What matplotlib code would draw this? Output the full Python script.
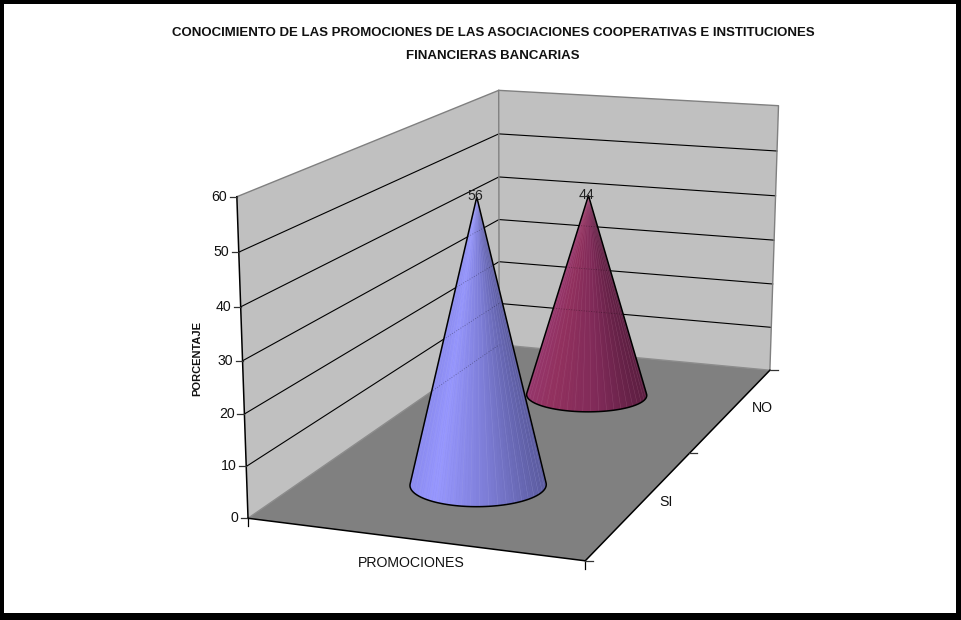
import numpy as np
import matplotlib
matplotlib.use("Agg")
import matplotlib.pyplot as plt
from matplotlib.patches import Polygon, Rectangle
from matplotlib.colors import to_rgb

plt.rcParams['font.family'] = ['Liberation Sans', 'DejaVu Sans']

# Chart content
title_lines = ["CONOCIMIENTO DE LAS PROMOCIONES DE LAS ASOCIACIONES COOPERATIVAS E INSTITUCIONES",
               "FINANCIERAS BANCARIAS"]
categories = ["SI", "NO"]
values = [56, 44]
value_ticks = [0, 10, 20, 30, 40, 50, 60]
x_title = "PROMOCIONES"
y_title = "PORCENTAJE"

VMAX = 60.0
CONE_RU, CONE_RV = 0.2, 0.10

# Camera calibration: box corners (u, v, w) and where they fall on the canvas
left_front = [(248.3, 518.3), (246.7, 466.7), (244.3, 413.7), (242.7, 361), (241, 306.7), (239, 252), (235.7, 196.7)]
left_back = [(498.5, 345), (498.6, 303), (498.8, 261.7), (499, 220), (499.1, 177), (499.2, 134), (499.3, 90)]
right_back = [(770, 370), (771.5, 327), (773, 283.7), (774.5, 240.7), (775.8, 196), (776.8, 151), (777.7, 105.7)]
front_right = (585, 561)


def fit_camera():
    world, screen = [], []
    for k in range(7):
        w = k / 6
        world += [(0, 0, w), (0, 1, w), (1, 1, w)]
        screen += [left_front[k], left_back[k], right_back[k]]
    world.append((1, 0, 0))
    screen.append(front_right)
    rows, rhs = [], []
    for (u, v, w), (x, y) in zip(world, screen):
        rows.append([u, v, w, 1, 0, 0, 0, 0, -x * u, -x * v, -x * w])
        rows.append([0, 0, 0, 0, u, v, w, 1, -y * u, -y * v, -y * w])
        rhs += [x, y]
    p = np.linalg.lstsq(np.array(rows, float), np.array(rhs, float), rcond=None)[0]
    return np.append(p, 1.0).reshape(3, 4)


CAM = fit_camera()


def proj(u, v, value):
    """Project a point of the plot box (value in chart units) to the canvas."""
    u, v, value = np.broadcast_arrays(u, v, np.asarray(value, float))
    h = CAM @ np.vstack([u.ravel(), v.ravel(), value.ravel() / VMAX, np.ones(u.size)])
    return np.column_stack([h[0] / h[2], h[1] / h[2]])


def hull(points):
    pts = sorted(map(tuple, points))

    def half(seq):
        out = []
        for p in seq:
            while len(out) > 1:
                a, b = np.subtract(out[-1], out[-2]), np.subtract(p, out[-1])
                if a[0] * b[1] - a[1] * b[0] > 0:
                    break
                out.pop()
            out.append(p)
        return out[:-1]
    return np.array(half(pts) + half(pts[::-1]))


fig = plt.figure(figsize=(9.62, 6.2), dpi=100, facecolor="black")
ax = fig.add_axes([0, 0, 1, 1])
ax.set_xlim(0, 962)
ax.set_ylim(620, 0)
ax.axis("off")
ax.add_patch(Rectangle((4, 4), 952, 609, fc="white", ec="none", zorder=0))

WALL, FLOOR, EDGE = "#C0C0C0", "#808080", "#808080"
TEXT = "#111111"

# Walls and floor
ax.add_patch(Polygon(proj([0, 0, 0, 0], [0, 1, 1, 0], [0, 0, VMAX, VMAX]), fc=WALL, ec="none", zorder=1))
ax.add_patch(Polygon(proj([0, 1, 1, 0], [1, 1, 1, 1], [0, 0, VMAX, VMAX]), fc=WALL, ec="none", zorder=1))
ax.add_patch(Polygon(proj([0, 1, 1, 0], [0, 0, 1, 1], [0, 0, 0, 0]), fc=FLOOR, ec="none", zorder=1))

# Gridlines across both walls
for t in value_ticks[1:-1]:
    ax.plot(*proj([0, 0, 1], [0, 1, 1], [t, t, t]).T, color="black", lw=0.8, zorder=2)

# Wall outlines
ax.plot(*proj([0, 0, 1, 1], [0, 1, 1, 1], [VMAX, VMAX, VMAX, 0]).T, color=EDGE, lw=1.0, zorder=2)
ax.plot(*proj([0, 0], [1, 1], [0, VMAX]).T, color=EDGE, lw=1.0, zorder=2)
ax.plot(*proj([0, 0, 1], [0, 1, 1], [0, 0, 0]).T, color="#8c8c8c", lw=1.0, zorder=2)

# Axis lines
ax.plot(*proj([0, 0], [0, 0], [0, VMAX]).T, color="black", lw=1.1, zorder=3)
ax.plot(*proj([0, 1, 1], [0, 0, 1], [0, 0, 0]).T, color="black", lw=1.1, zorder=3)

# Value axis ticks and labels
for t in value_ticks:
    x, y = proj(0, 0, t)[0]
    ax.plot([x - 7, x], [y, y], color="#333333", lw=0.9, zorder=3)
    ax.text(x - 9.5, y, str(t), ha="right", va="center", fontsize=10.2, color=TEXT, zorder=6)

# Category axis ticks
for u in (0, 1):
    x, y = proj(u, 0, 0)[0]
    ax.plot([x, x], [y, y + 8], color="black", lw=0.9, zorder=3)

# Depth axis ticks
for v in (0, 0.5, 1):
    x, y = proj(1, v, 0)[0]
    ax.plot([x, x + 8], [y, y], color="#333333", lw=0.9, zorder=3)


def ramp(t, stops):
    pos = [s[0] for s in stops]
    return tuple(np.interp(t, pos, [to_rgb(s[1])[i] for s in stops]) for i in range(3))


def draw_cone(row, value, stops, seam, show_lines):
    v = (row + 0.5) / len(categories)
    theta = np.linspace(0, 2 * np.pi, 145)
    base = proj(0.5 + CONE_RU * np.cos(theta), v + CONE_RV * np.sin(theta), 0 * theta)
    apex = proj(0.5, v, value)[0]
    outline = hull(np.vstack([base, apex]))
    shell = Polygon(outline, closed=True, fc=ramp(0.5, stops), ec="none", zorder=4)
    ax.add_patch(shell)
    xmin, xmax = base[:, 0].min(), base[:, 0].max()
    centre = base[:, 1].mean()
    facets = [i for i in range(len(base) - 1) if base[i, 1] + base[i + 1, 1] >= 2 * centre]
    for i in sorted(facets, key=lambda j: base[j, 1]):
        t = (0.5 * (base[i, 0] + base[i + 1, 0]) - xmin) / (xmax - xmin)
        tri = Polygon([base[i], base[i + 1], apex], closed=True, fc=ramp(t, stops),
                      ec=ramp(t, stops), lw=0.25, zorder=4)
        ax.add_patch(tri)
        tri.set_clip_path(shell)
        if i % 3 == 0:
            line, = ax.plot([base[i, 0], apex[0]], [base[i, 1], apex[1]], color=seam, lw=0.3,
                            alpha=0.3, zorder=4.1)
            line.set_clip_path(shell)
    # Gridlines showing through the cone surface
    for us, vs, ws in show_lines:
        line, = ax.plot(*proj(us, vs, ws).T, color="black", lw=0.6, ls=(0, (1, 2)), alpha=0.4, zorder=4.2)
        line.set_clip_path(shell)
    ax.add_patch(Polygon(outline, closed=True, fc="none", ec="black", lw=1.1, zorder=4.5))
    ax.text(apex[0] - 1.5, apex[1] - 1, str(value), ha="center", va="center", fontsize=10.2,
            color="#222222", zorder=6)


blue_stops = [(0, "#8C8CF2"), (0.18, "#9898FF"), (0.55, "#7E7ED8"), (1, "#5A5A9C")]
wine_stops = [(0, "#98386E"), (0.2, "#93325F"), (0.6, "#7F2A58"), (1, "#5A1E40")]

left_grid = [([0, 0], [0, 1], [t, t]) for t in value_ticks[:-1]]
back_grid = [([0, 1], [1, 1], [t, t]) for t in value_ticks[1:-1]]

# Far row first so the near cone overlaps it
draw_cone(1, values[1], wine_stops, "#C58AA8", back_grid)
draw_cone(0, values[0], blue_stops, "#B8B8F0", left_grid)

# Depth axis category labels
ax.text(666, 502, categories[0], ha="center", va="center", fontsize=10.2, color=TEXT, zorder=6)
ax.text(762, 408, categories[1], ha="center", va="center", fontsize=10.2, color=TEXT, zorder=6)

# Titles
ax.text(493, 33, title_lines[0], ha="center", va="center", fontsize=9.55, fontweight="bold", color=TEXT, zorder=6)
ax.text(493, 56, title_lines[1], ha="center", va="center", fontsize=9.55, fontweight="bold", color=TEXT, zorder=6)
ax.text(411, 563, x_title, ha="center", va="center", fontsize=10.2, color=TEXT, zorder=6)
ax.text(197, 358, y_title, ha="center", va="center", rotation=90, fontsize=8.0, fontweight="bold", color=TEXT, zorder=6)

fig.savefig("out.png", dpi=100, facecolor="black")
